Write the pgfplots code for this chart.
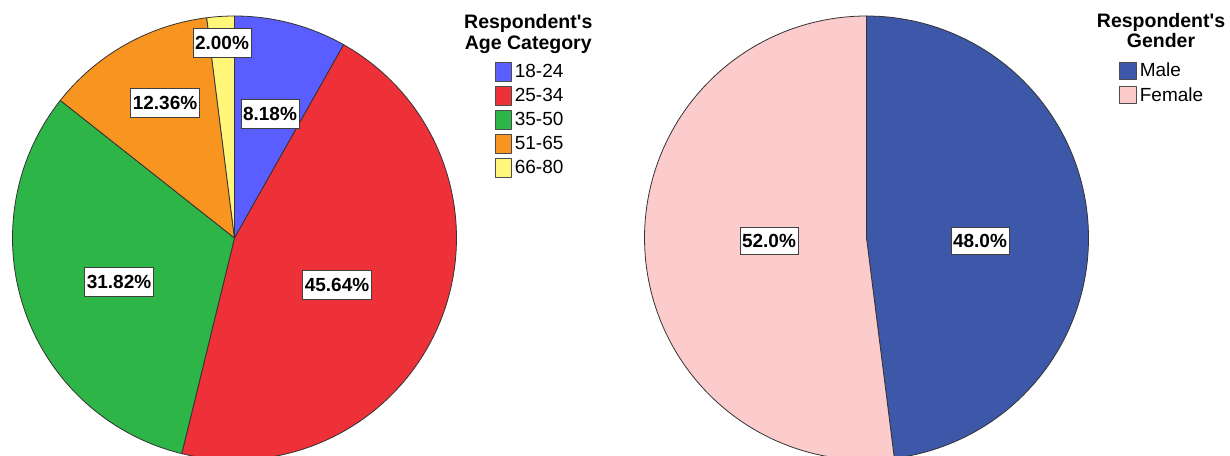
\documentclass[border=0pt]{standalone}
\usepackage{pgfplots}
\usepackage{pgfplotstable}
\pgfplotsset{compat=1.18}
\usepackage{fontspec}
\setmainfont{Liberation Sans}

\definecolor{age1}{RGB}{90,93,255}
\definecolor{age2}{RGB}{238,49,57}
\definecolor{age3}{RGB}{46,181,72}
\definecolor{age4}{RGB}{247,149,32}
\definecolor{age5}{RGB}{255,246,122}
\definecolor{male}{RGB}{61,88,168}
\definecolor{female}{RGB}{252,203,203}

% Shares in percent
\pgfplotstableread{
group pct
18-24 8.18
25-34 45.64
35-50 31.82
51-65 12.36
66-80 2.00
}\agetable

\pgfplotstableread{
group pct
Male 48.0
Female 52.0
}\gendertable

\newcommand{\pieR}{222}

% One wedge, clockwise from 12 o'clock, continuing after the previous one
\newcommand{\pieslice}[5]{% #1 table, #2 row, #3 centre x, #4 centre y, #5 colour
  \pgfplotstablegetelem{#2}{pct}\of#1%
  \pgfmathsetmacro{\sliceA}{90-3.6*\piesum}%
  \pgfmathsetmacro{\piesumnew}{\piesum+\pgfplotsretval}%
  \pgfmathsetmacro{\sliceB}{90-3.6*\piesumnew}%
  \global\let\piesum\piesumnew
  \edef\doslice{\noexpand\addplot[slice, fill=#5, domain=\sliceB:\sliceA]
     ({#3+\pieR*cos(x)},{#4+\pieR*sin(x)}) -- (axis cs:#3,#4) -- cycle;}%
  \doslice
  \pgfplotstablegetelem{#2}{group}\of#1%
  \addlegendentryexpanded{\pgfplotsretval}%
}

\pgfplotsset{
  pieaxis/.style={
    at={(0,0)}, anchor=south west,
    x=1pt, y=1pt, xmin=0, xmax=1230, ymin=0, ymax=455,
    enlargelimits=false, hide axis, clip=true,
    legend cell align=left,
    legend style={anchor=north west, draw=none, fill=none, inner sep=0pt, outer sep=0pt,
      column sep=3.3pt, font=\fontsize{19}{22}\selectfont,
      nodes={inner sep=0pt}},
  },
  slice/.style={draw=black!80, line width=0.8pt, line join=round, samples=120},
}

\tikzset{
  lab/.style={draw=black!75, line width=0.8pt, fill=white,
    font=\bfseries\fontsize{19}{20}\selectfont,
    inner xsep=2pt, inner ysep=0pt, minimum height=29pt,
    text height=13.6pt, text depth=0pt},
  ttl/.style={font=\bfseries\fontsize{19.5}{21}\selectfont, anchor=base, inner sep=0pt},
}

\begin{document}
\begin{tikzpicture}
\path[use as bounding box] (0,0) rectangle (1230pt,455pt);

% Age category
\begin{axis}[pieaxis,
  legend image code/.code={\draw[#1, draw=black!70, line width=0.8pt] (0pt,-9.2pt) rectangle (16pt,9.2pt);},
  legend style={at={(0.4022,0.8631)}, row sep=4.8pt}]
  \def\piesum{0}
  \pieslice{\agetable}{0}{234.5}{217}{age1}
  \pieslice{\agetable}{1}{234.5}{217}{age2}
  \pieslice{\agetable}{2}{234.5}{217}{age3}
  \pieslice{\agetable}{3}{234.5}{217}{age4}
  \pieslice{\agetable}{4}{234.5}{217}{age5}
  \node[lab] at (axis cs:222,412) {2.00\%};
  \node[lab] at (axis cs:165,352) {12.36\%};
  \node[lab] at (axis cs:270,341) {8.18\%};
  \node[lab] at (axis cs:119,173) {31.82\%};
  \node[lab] at (axis cs:337,170) {45.64\%};
  \node[ttl] at (axis cs:528.3,426) {Respondent\textquotesingle s};
  \node[ttl] at (axis cs:528.3,405.7) {Age Category};
\end{axis}

% Gender
\begin{axis}[pieaxis,
  legend image code/.code={\draw[#1, draw=black!70, line width=0.8pt] (0pt,-8.7pt) rectangle (16.4pt,8.7pt);},
  legend style={at={(0.91,0.8644)}, row sep=5.9pt}]
  \def\piesum{0}
  \pieslice{\gendertable}{0}{866.5}{217}{male}
  \pieslice{\gendertable}{1}{866.5}{217}{female}
  \node[lab, minimum height=27pt] at (axis cs:769,214) {52.0\%};
  \node[lab, minimum height=27pt] at (axis cs:980,214) {48.0\%};
  \node[ttl] at (axis cs:1161,427.7) {Respondent\textquotesingle s};
  \node[ttl] at (axis cs:1161,407.7) {Gender};
\end{axis}
\end{tikzpicture}
\end{document}
